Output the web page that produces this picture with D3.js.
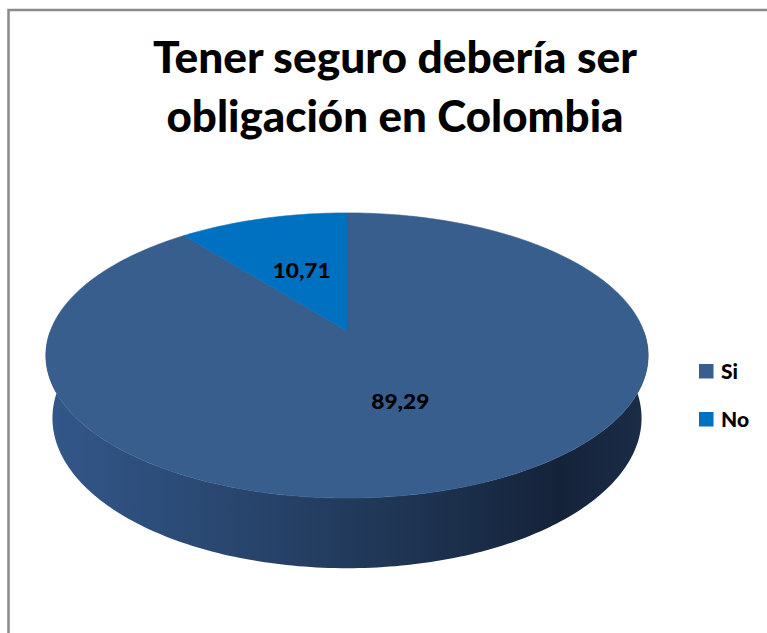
<!DOCTYPE html>
<html>
<head>
<meta charset="utf-8">
<script src="https://cdn.jsdelivr.net/npm/d3@7"></script>
<style>
  html, body { margin: 0; padding: 0; background: #fff; }
  svg { display: block; }
  text { font-family: Lato, "Open Sans", "DejaVu Sans", sans-serif; font-weight: 900; fill: #000; }
</style>
</head>
<body>
<svg id="chart" width="767" height="633"></svg>
<script>
// Survey result: should having insurance be mandatory in Colombia?
const titleLines = ["Tener seguro debería ser", "obligación en Colombia"];
const categories = ["Si", "No"];
const values = [89.29, 10.71];
const colors = ["#375E8D", "#0070C0"];

const svg = d3.select("#chart");
const W = 767, H = 633;

// Outer chart frame (open to the right and bottom edges)
svg.append("rect")
  .attr("x", 8.5).attr("y", 10)
  .attr("width", W + 20).attr("height", H + 20)
  .attr("fill", "#fff")
  .attr("stroke", "#8a8a8a").attr("stroke-width", 2.5);

// Title
const titleG = svg.append("g");
titleG.selectAll("text").data(titleLines).join("text")
  .attr("x", 395)
  .attr("y", (d, i) => 73 + i * 58.5)
  .attr("text-anchor", "middle")
  .attr("font-size", 43)
  .attr("textLength", (d, i) => i === 0 ? 484 : 457)
  .attr("lengthAdjust", "spacingAndGlyphs")
  .text(d => d);

// Simple perspective camera for a tilted 3D pie
const cam = {
  cx: 347, cy: 331,       // projected centre of the top face
  tilt: 27.8 * Math.PI / 180,
  D: 5.15,                // camera distance (in pie radii)
  f: 1528,                // focal length in px
  thick: 0.241            // pie height (in pie radii)
};
const sA = Math.sin(cam.tilt), cA = Math.cos(cam.tilt);
function project(theta, r, h) {
  const x = r * Math.sin(theta);
  const z = -r * Math.cos(theta);       // +z points toward the viewer
  const sy = z * sA - h * cA;
  const depth = cam.D - z * cA - h * sA;
  return [cam.cx + cam.f * x / depth, cam.cy + cam.f * sy / depth];
}

const pie = d3.pie().sort(null).value(d => d)(values);
const step = Math.PI / 180;
function angles(a0, a1) {
  const n = Math.max(2, Math.ceil((a1 - a0) / step));
  return d3.range(n + 1).map(i => a0 + (a1 - a0) * i / n);
}
const closedLine = d3.line().curve(d3.curveLinearClosed);

// Side wall gradient (lit from the left)
const defs = svg.append("defs");
const grad = defs.append("linearGradient")
  .attr("id", "sideGrad")
  .attr("gradientUnits", "userSpaceOnUse")
  .attr("x1", 44).attr("y1", 0).attr("x2", 651).attr("y2", 0);
[[0, "#33578a"], [0.12, "#2f5180"], [0.5, "#223b5c"], [0.85, "#15233a"], [1, "#1b2d48"]]
  .forEach(([o, c]) => grad.append("stop").attr("offset", o).attr("stop-color", c));

// Visible wall: front half of the cylinder
const frontA0 = Math.PI / 2, frontA1 = 3 * Math.PI / 2;
const sides = svg.append("g");
pie.forEach(p => {
  const a0 = Math.max(p.startAngle, frontA0), a1 = Math.min(p.endAngle, frontA1);
  if (a1 <= a0) return;
  const as = angles(a0, a1);
  const pts = as.map(a => project(a, 1, 0))
    .concat(as.slice().reverse().map(a => project(a, 1, -cam.thick)));
  sides.append("path").attr("d", closedLine(pts)).attr("fill", "url(#sideGrad)");
});

// Top faces
const tops = svg.append("g");
pie.forEach((p, i) => {
  const pts = [project(0, 0, 0)].concat(angles(p.startAngle, p.endAngle).map(a => project(a, 1, 0)));
  tops.append("path").attr("d", closedLine(pts))
    .attr("fill", colors[i])
    .attr("stroke", colors[i]).attr("stroke-width", 0.6);
});

// Value labels
const fmt = v => d3.format(".2f")(v).replace(".", ",");
svg.append("g").selectAll("text").data(pie).join("text")
  .attr("x", d => project((d.startAngle + d.endAngle) / 2, 0.5, 0)[0])
  .attr("y", d => project((d.startAngle + d.endAngle) / 2, 0.5, 0)[1] + 7)
  .attr("text-anchor", "middle")
  .attr("font-size", 20.5)
  .attr("textLength", 58)
  .attr("lengthAdjust", "spacingAndGlyphs")
  .text(d => fmt(d.data));

// Legend
const legend = svg.append("g").attr("transform", "translate(699,364)");
const item = legend.selectAll("g").data(categories).join("g")
  .attr("transform", (d, i) => `translate(0,${i * 48})`);
item.append("rect").attr("width", 14.5).attr("height", 14.5)
  .attr("fill", (d, i) => colors[i]);
item.append("text").attr("x", 22).attr("y", 15)
  .attr("font-size", 21)
  .text(d => d);
</script>
</body>
</html>
